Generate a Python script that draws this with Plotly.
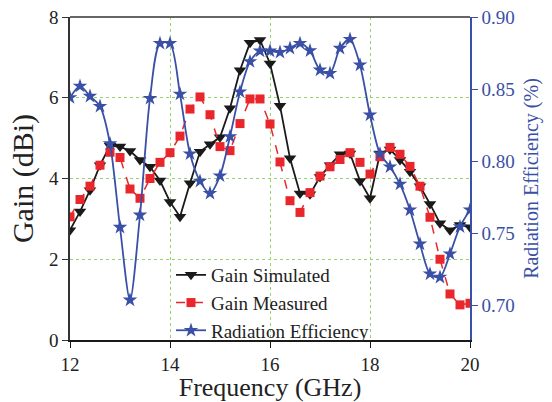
import plotly.graph_objects as go

freq = [12.0, 12.2, 12.4, 12.6, 12.8, 13.0, 13.2, 13.4, 13.6, 13.8,
        14.0, 14.2, 14.4, 14.6, 14.8, 15.0, 15.2, 15.4, 15.6, 15.8,
        16.0, 16.2, 16.4, 16.6, 16.8, 17.0, 17.2, 17.4, 17.6, 17.8,
        18.0, 18.2, 18.4, 18.6, 18.8, 19.0, 19.2, 19.4, 19.6, 19.8, 20.0]

gain_simulated = [2.72, 3.18, 3.71, 4.33, 4.81, 4.79, 4.68, 4.46, 4.29, 3.95,
                  3.42, 3.05, 3.88, 4.66, 4.85, 5.02, 5.74, 6.68, 7.36, 7.43,
                  6.85, 5.80, 4.50, 3.63, 3.61, 4.04, 4.33, 4.60, 4.62, 3.94,
                  3.51, 4.62, 4.72, 4.46, 4.17, 3.81, 3.37, 2.89, 2.72, 2.85, 2.79]

gain_measured = [3.05, 3.48, 3.81, 4.33, 4.65, 4.52, 3.74, 3.51, 4.00, 4.40,
                 4.64, 5.05, 5.72, 6.02, 5.58, 4.79, 4.69, 5.36, 5.97, 5.97,
                 5.35, 4.41, 3.45, 3.16, 3.65, 4.06, 4.29, 4.47, 4.64, 4.40,
                 4.11, 4.54, 4.77, 4.60, 4.30, 3.81, 3.04, 2.00, 1.14, 0.87, 0.91]

rad_eff = [0.844, 0.852, 0.845, 0.838, 0.812, 0.754, 0.7035, 0.7625, 0.8435, 0.8817,
           0.8817, 0.8465, 0.805, 0.786, 0.7776, 0.7897, 0.817, 0.848, 0.869, 0.8764,
           0.8764, 0.8755, 0.8783, 0.8817, 0.8766, 0.8632, 0.8609, 0.8783, 0.8845, 0.8667,
           0.832, 0.805, 0.796, 0.784, 0.766, 0.7424, 0.7216, 0.7193, 0.7355, 0.7544, 0.766]

x_ticks = [12, 14, 16, 18, 20]
gain_ticks = [0, 2, 4, 6, 8]
eff_ticks = [0.70, 0.75, 0.80, 0.85, 0.90]

BLACK = "#1a1a1a"
RED = "#e8262b"
BLUE = "#3a4fa6"
GRID = "#93d46c"
FONT = "Liberation Serif, Times New Roman, serif"

fig = go.Figure()
fig.add_trace(go.Scatter(
    x=freq, y=gain_simulated, name="Gain Simulated", mode="lines+markers",
    line=dict(color=BLACK, width=1.8),
    marker=dict(symbol="triangle-down", size=11, color=BLACK),
))
fig.add_trace(go.Scatter(
    x=freq, y=gain_measured, name="Gain Measured", mode="lines+markers",
    line=dict(color=RED, width=1.5, dash="dash"),
    marker=dict(symbol="square", size=9, color=RED),
))
fig.add_trace(go.Scatter(
    x=freq, y=rad_eff, name="Radiation Efficiency", mode="lines+markers",
    yaxis="y2",
    line=dict(color=BLUE, width=1.8, shape="spline", smoothing=0.8),
    marker=dict(symbol="star", size=11, color=BLUE),
))

fig.update_layout(
    width=552, height=402,
    margin=dict(l=70, r=82, t=17, b=62, autoexpand=False),
    paper_bgcolor="white", plot_bgcolor="white",
    font=dict(family=FONT, size=19, color="#222"),
    showlegend=True,
    legend=dict(x=0.2525, y=0.26, xanchor="left", yanchor="top",
                bgcolor="rgba(0,0,0,0)", font=dict(size=19, family=FONT, color="#222"),
                tracegroupgap=0),
    xaxis=dict(
        range=[12, 20], tickvals=x_ticks, ticktext=[str(v) for v in x_ticks],
        showgrid=True, gridcolor=GRID, griddash="dot", gridwidth=1,
        showline=True, linecolor=BLACK, linewidth=1.5,
        ticks="outside", ticklen=6, tickcolor=BLACK,
        zeroline=False,
        title=dict(text="Frequency (GHz)", font=dict(size=26, family=FONT, color="#222"), standoff=8),
    ),
    yaxis=dict(
        range=[0, 8], tickvals=gain_ticks,
        showgrid=True, gridcolor=GRID, griddash="dot", gridwidth=1,
        showline=True, linecolor="#333", linewidth=1.5,
        ticks="outside", ticklen=6, tickcolor="#333",
        zeroline=False,
        title=dict(text="Gain (dBi)", font=dict(size=30, family=FONT, color="#222"), standoff=6),
    ),
    yaxis2=dict(
        range=[0.6757, 0.90], tickvals=eff_ticks, tickformat=".2f",
        overlaying="y", side="right", anchor="x",
        showgrid=False, zeroline=False,
        showline=True, linecolor=BLUE, linewidth=1.5,
        ticks="outside", ticklen=6, tickcolor=BLUE,
        tickfont=dict(color=BLUE, size=19, family=FONT),
        title=dict(text="Radiation Efficiency (%)", font=dict(size=20, family=FONT, color=BLUE), standoff=10),
    ),
    shapes=[dict(type="line", xref="paper", yref="paper", x0=0, x1=1, y0=1, y1=1,
                 line=dict(color="#666", width=2))],
)

fig.write_html("out.html")
